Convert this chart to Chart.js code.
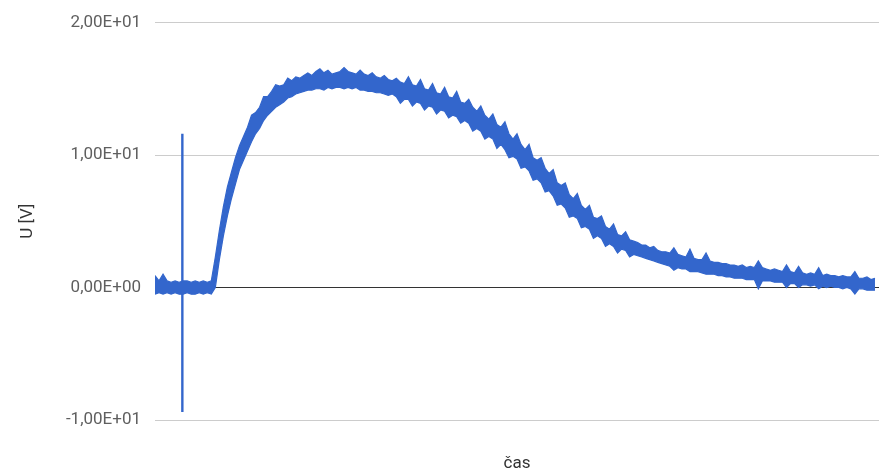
<!DOCTYPE html>
<html>
<head>
<meta charset="utf-8">
<script src="https://cdn.jsdelivr.net/npm/chart.js@4/dist/chart.umd.min.js"></script>
<style>
  html, body { margin: 0; padding: 0; background: #fff; }
  #wrap { width: 879px; height: 474px; position: relative; }
</style>
</head>
<body>
<div id="wrap"><canvas id="chart"></canvas></div>
<script>
// Measured voltage trace: top and bottom of the noisy signal at each time step.
const upper = [
  0.9, 0.5, 1.0, 0.5, 0.4, 0.5, 0.4, 0.5, 0.5, 0.4,
  0.5, 0.4, 0.5, 0.4, 0.5, 2.3, 4.3, 6.1, 7.6, 8.7,
  9.8, 10.7, 11.4, 12.1, 13.0, 13.2, 13.6, 14.4, 14.4, 14.8,
  15.3, 15.2, 15.3, 15.8, 15.6, 15.9, 15.8, 16.0, 16.2, 16.0,
  16.3, 16.5, 16.2, 16.4, 16.1, 16.2, 16.3, 16.6, 16.3, 16.2,
  16.1, 16.4, 16.1, 16.0, 16.2, 15.9, 15.8, 16.0, 15.7, 15.6,
  15.8, 15.5, 15.4, 15.9, 15.3, 15.2, 15.7, 15.0, 14.9, 15.4,
  14.7, 14.6, 15.1, 14.4, 14.3, 14.8, 14.0, 13.9, 14.2, 13.6,
  13.3, 13.7, 13.0, 12.7, 13.1, 12.3, 12.1, 12.5, 11.6, 11.2,
  11.6, 10.8, 10.4, 10.8, 9.8, 9.6, 9.8, 9.0, 8.6, 8.9,
  7.9, 7.7, 7.9, 7.0, 6.7, 7.1, 6.2, 5.9, 6.2, 5.3,
  5.2, 5.4, 4.6, 4.4, 4.8, 4.0, 3.9, 4.2, 3.6, 3.5,
  3.4, 3.2, 3.2, 3.0, 3.1, 2.8, 2.7, 2.7, 2.6, 3.0,
  2.5, 2.4, 2.3, 2.9, 2.2, 2.1, 2.1, 2.6, 2.0, 1.9,
  1.9, 1.8, 1.8, 1.7, 1.7, 1.6, 1.7, 1.5, 1.6, 1.5,
  2.0, 1.5, 1.4, 1.3, 1.4, 1.3, 1.2, 1.7, 1.2, 1.1,
  1.6, 1.1, 1.0, 1.1, 1.0, 1.5, 0.9, 1.0, 0.9, 0.9,
  0.8, 0.9, 0.8, 0.8, 1.2, 0.7, 0.7, 0.8, 0.6, 0.7
];
const lower = [
  -0.5, -0.4, -0.5, -0.4, -0.5, -0.4, -0.5, -0.5, -0.4, -0.5,
  -0.5, -0.4, -0.5, -0.4, -0.5, 0.0, 2.1, 3.9, 5.4, 6.7,
  7.8, 8.9, 9.6, 10.3, 11.0, 11.6, 12.0, 12.6, 13.0, 13.3,
  13.6, 13.8, 14.0, 14.3, 14.4, 14.6, 14.7, 14.8, 14.9, 14.9,
  15.0, 15.0, 14.9, 15.1, 15.0, 15.1, 15.1, 15.0, 15.1, 15.0,
  15.1, 14.9, 14.9, 14.8, 14.8, 14.7, 14.7, 14.6, 14.5, 14.6,
  14.4, 13.9, 14.2, 14.2, 13.7, 14.0, 13.9, 13.4, 13.7, 13.6,
  13.1, 13.4, 13.3, 12.8, 13.0, 12.9, 12.4, 12.6, 12.4, 11.8,
  12.0, 11.8, 11.2, 11.4, 11.2, 10.5, 10.8, 10.4, 9.8, 9.9,
  9.7, 9.0, 9.1, 8.8, 8.1, 8.2, 7.9, 7.2, 7.3, 6.9,
  6.2, 6.3, 6.0, 5.3, 5.4, 5.2, 4.5, 4.6, 4.4, 3.7,
  3.9, 3.7, 3.1, 3.3, 3.1, 2.6, 2.9, 2.8, 2.3, 2.5,
  2.4, 2.3, 2.2, 2.1, 2.0, 1.9, 1.8, 1.7, 1.6, 1.3,
  1.5, 1.4, 1.4, 1.2, 1.2, 1.2, 1.1, 1.0, 1.0, 1.0,
  0.9, 0.9, 0.8, 0.8, 0.7, 0.7, 0.7, 0.6, 0.6, 0.6,
  -0.1, 0.5, 0.5, 0.5, 0.4, 0.4, 0.4, 0.0, 0.3, 0.3,
  0.0, 0.2, 0.2, 0.1, 0.2, -0.1, 0.1, 0.0, 0.1, 0.0,
  0.0, -0.1, 0.0, -0.1, -0.5, -0.1, -0.1, -0.2, -0.2, -0.2
];

// Switching transient: one sharp spike early in the record
const spikeTime = [6.8];
const spikeHigh = [11.6];
const spikeLow = [-9.4];

// Y axis ticks and their labels (decimal comma, scientific notation)
const tickValues = [-10, 0, 10, 20];
const tickLabels = ['-1,00E+01', '0,00E+00', '1,00E+01', '2,00E+01'];

const xTitle = 'čas';
const yTitle = 'U [V]';

const BLUE = '#3366cc';
const FONT = 'Roboto, "Liberation Sans", Arial, sans-serif';

const upperPts = upper.map((v, k) => ({ x: k, y: v }));
const lowerPts = lower.map((v, k) => ({ x: k, y: v }));
const spikePts = [];
spikeTime.forEach((t, i) => {
  spikePts.push({ x: t, y: spikeLow[i] }, { x: t, y: spikeHigh[i] });
});

new Chart(document.getElementById('chart'), {
  type: 'line',
  data: {
    datasets: [
      {
        data: upperPts,
        borderColor: BLUE,
        backgroundColor: BLUE,
        borderWidth: 1.2,
        pointRadius: 0,
        tension: 0,
        fill: '+1'
      },
      {
        data: lowerPts,
        borderColor: BLUE,
        borderWidth: 1.2,
        pointRadius: 0,
        tension: 0,
        fill: false
      },
      {
        data: spikePts,
        borderColor: BLUE,
        borderWidth: 2.4,
        pointRadius: 0,
        tension: 0,
        fill: false
      }
    ]
  },
  options: {
    responsive: true,
    maintainAspectRatio: false,
    animation: false,
    events: [],
    layout: { padding: { top: 20, right: 0, left: 0, bottom: 0 } },
    plugins: { legend: { display: false }, tooltip: { enabled: false } },
    scales: {
      x: {
        type: 'linear',
        min: 0,
        max: upper.length,
        grid: { display: false, drawTicks: false },
        border: { display: false },
        ticks: { display: false },
        title: {
          display: true,
          text: xTitle,
          color: '#333',
          font: { family: FONT, size: 17 },
          padding: { top: 0, bottom: 0 }
        },
        afterFit: s => { s.height = 54; }
      },
      y: {
        type: 'linear',
        min: -10,
        max: 20,
        afterBuildTicks: s => { s.ticks = tickValues.map(v => ({ value: v })); },
        grid: {
          drawTicks: false,
          lineWidth: 1,
          color: c => (c.tick && c.tick.value === 0) ? '#333333' : '#cccccc'
        },
        border: { display: false },
        ticks: {
          padding: 14,
          color: '#5f5f5f',
          font: { family: FONT, size: 17, lineHeight: 1 },
          callback: v => tickLabels[tickValues.indexOf(v)]
        },
        title: {
          display: true,
          text: yTitle,
          color: '#333',
          font: { family: FONT, size: 17 },
          padding: { top: 18, bottom: 0 }
        },
        afterFit: s => { s.width = 155; }
      }
    }
  }
});
</script>
</body>
</html>
